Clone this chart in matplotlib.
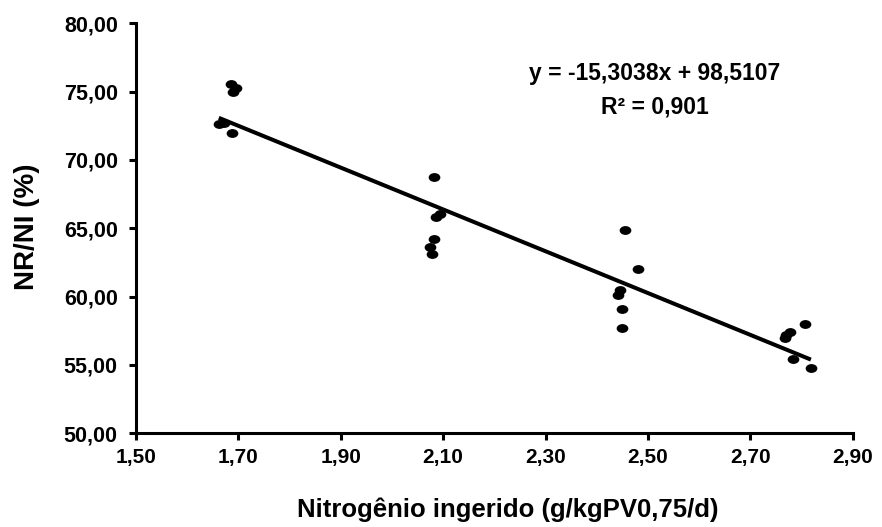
import numpy as np
import matplotlib
matplotlib.use('Agg')
import matplotlib.pyplot as plt
from matplotlib.path import Path
from matplotlib.transforms import Affine2D

plt.rcParams['font.family'] = ['Liberation Sans', 'DejaVu Sans']
plt.rcParams['font.weight'] = 'bold'
plt.rcParams['axes.labelweight'] = 'bold'

# nitrogen intake (x) and NR/NI % (y)
n_ingerido = [1.685, 1.696, 1.690, 1.662, 1.672, 1.687,
              2.083, 2.086, 2.094, 2.083, 2.074, 2.078,
              2.455, 2.480, 2.445, 2.442, 2.450, 2.450,
              2.806, 2.767, 2.777, 2.770, 2.783, 2.818]
nr_ni = [75.54, 75.25, 74.97, 72.60, 72.70, 71.93,
         68.71, 65.79, 66.03, 64.20, 63.59, 63.08,
         64.86, 61.98, 60.47, 60.10, 59.10, 57.67,
         57.98, 57.00, 57.37, 57.20, 55.40, 54.78]

slope = -15.3038
intercept = 98.5107
r2 = 0.901

x_ticks = [1.50, 1.70, 1.90, 2.10, 2.30, 2.50, 2.70, 2.90]
y_ticks = [50, 55, 60, 65, 70, 75, 80]

# slightly flattened ellipse marker like the original
ellipse = Path.unit_circle().transformed(Affine2D().scale(1.0, 0.72))

fig = plt.figure(figsize=(8.82, 5.27), dpi=100)
ax = fig.add_axes([0.154, 0.178, 0.813, 0.778])

ax.scatter(n_ingerido, nr_ni, marker=ellipse, s=55, color='black', zorder=3)

xs = np.array([min(n_ingerido), max(n_ingerido)])
ax.plot(xs, slope * xs + intercept, color='black', lw=2.9, solid_capstyle='butt')

ax.set_xlim(1.50, 2.90)
ax.set_ylim(50, 80)
ax.set_xticks(x_ticks)
ax.set_yticks(y_ticks)
ax.set_xticklabels([f'{v:.2f}'.replace('.', ',') for v in x_ticks])
ax.set_yticklabels([f'{v:.2f}'.replace('.', ',') for v in y_ticks])

for s in ['top', 'right']:
    ax.spines[s].set_visible(False)
for s in ['left', 'bottom']:
    ax.spines[s].set_linewidth(2.2)
ax.tick_params(axis='both', direction='out', length=5, width=2.2)
ax.tick_params(axis='x', pad=6, labelsize=15)
ax.tick_params(axis='y', pad=8, labelsize=15.5)

fig.text(508 / 882, 1 - 510 / 527, 'Nitrogênio ingerido (g/kgPV0,75/d)',
         fontsize=18.5, fontweight='bold', ha='center', va='center')
fig.text(27 / 882, 1 - 227 / 527, 'NR/NI (%)', rotation=90,
         fontsize=20, fontweight='bold', ha='center', va='center')

ax.text(2.513, 76.3, f'y = {slope:.4f}x + {intercept:.4f}'.replace('.', ','),
        fontsize=16.5, fontweight='bold', ha='center', va='center')
ax.text(2.513, 73.9, f'R² = {r2:.3f}'.replace('.', ','),
        fontsize=16.5, fontweight='bold', ha='center', va='center')

fig.savefig('out.png', dpi=100)
